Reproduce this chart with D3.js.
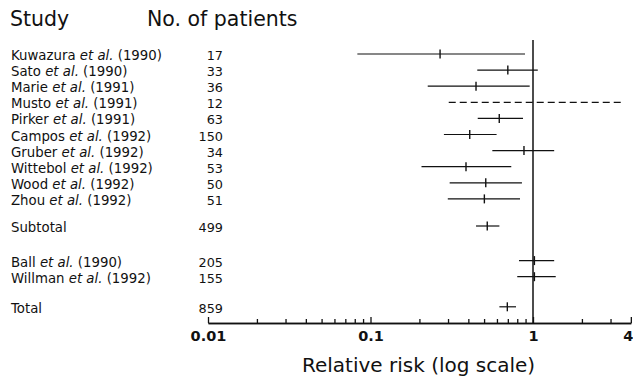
<!DOCTYPE html>
<html><head><meta charset="utf-8">
<script src="https://cdn.jsdelivr.net/npm/d3@7"></script>
<style>
html,body{margin:0;padding:0;background:#fff;}
svg{display:block;font-family:"DejaVu Sans",sans-serif;}
</style></head>
<body><svg id="chart" width="633" height="383"></svg>
<script>
// ---- data ----
const studies   = ["Kuwazura","Sato","Marie","Musto","Pirker","Campos","Gruber","Wittebol","Wood","Zhou","Subtotal","Ball","Willman","Total"];
const years     = ["1990","1990","1991","1991","1991","1992","1992","1992","1992","1992",null,"1990","1992",null];
const groups    = [0,0,0,0,0,0,0,0,0,0,1,2,2,3];
const patients  = [17,33,36,12,63,150,34,53,50,51,499,205,155,859];
const rrPoint   = [0.268,0.70,0.446,null,0.62,0.408,0.88,0.387,0.512,0.502,0.523,1.02,1.02,0.695];
const rrLow     = [0.083,0.454,0.225,0.303,0.457,0.283,0.562,0.206,0.307,0.299,0.446,0.82,0.80,0.621];
const rrHigh    = [0.893,1.07,0.954,3.51,0.868,0.597,1.35,0.735,0.855,0.832,0.621,1.35,1.38,0.786];
const dashed    = [false,false,false,true,false,false,false,false,false,false,false,false,false,false];
const majorTicks = [0.01,0.1,1,4];
const majorLabels = ["0.01","0.1","1","4"];
const minorTicks = [0.02,0.03,0.04,0.05,0.06,0.07,0.08,0.09,0.2,0.3,0.4,0.5,0.6,0.7,0.8,0.9,2,3];

// ---- layout ----
const svg = d3.select("#chart");
const ink = "#111";
const rowStep = 16.1, firstRow = 55;
const groupOffset = [0, 11, 29.5, 43.5];
const yPos = studies.map((d,i)=> firstRow + rowStep*i + groupOffset[groups[i]]);
const x = d3.scaleLog().domain([0.01,4]).range([208, 208 + 162.5*Math.log10(400)]);
const axisY = 323;

// headers
svg.append("text").attr("x",10).attr("y",26).attr("font-size",20.5).attr("fill",ink).text("Study");
svg.append("text").attr("x",147).attr("y",26).attr("font-size",20.5).attr("fill",ink).text("No. of patients");

// study labels
const lab = svg.append("g").attr("font-size",13.3).attr("fill",ink);
studies.forEach((s,i)=>{
  const t = lab.append("text").attr("x",11).attr("y",yPos[i]+5);
  if (years[i]) {
    t.append("tspan").text(s+" ");
    t.append("tspan").attr("font-style","italic").text("et al.");
    t.append("tspan").text(" ("+years[i]+")");
  } else t.text(s);
  lab.append("text").attr("x",223).attr("y",yPos[i]+5).attr("text-anchor","end").attr("font-size",12.8).text(patients[i]);
});

// reference line at RR = 1
svg.append("line").attr("x1",x(1)).attr("x2",x(1)).attr("y1",40).attr("y2",axisY)
  .attr("stroke",ink).attr("stroke-width",1.5);

// CI lines and point estimates
const marks = svg.append("g").attr("stroke",ink);
studies.forEach((s,i)=>{
  const y = yPos[i] - 1;
  marks.append("line").attr("x1",x(rrLow[i])).attr("x2",x(rrHigh[i])).attr("y1",y).attr("y2",y)
    .attr("stroke-width",1.2).attr("stroke-dasharray",dashed[i]?"7,4":null);
  if (rrPoint[i]!=null)
    marks.append("line").attr("x1",x(rrPoint[i])).attr("x2",x(rrPoint[i])).attr("y1",y-4.5).attr("y2",y+4.5)
      .attr("stroke-width",1.4);
});

// axis
const gMinor = svg.append("g").attr("transform",`translate(0,${axisY})`)
  .call(d3.axisBottom(x).tickValues(minorTicks).tickSizeInner(-4).tickSizeOuter(0).tickFormat(""));
const gMajor = svg.append("g").attr("transform",`translate(0,${axisY})`)
  .call(d3.axisBottom(x).tickValues(majorTicks).tickSizeInner(-6).tickSizeOuter(0).tickPadding(8)
    .tickFormat((d,i)=>majorLabels[i]));
[gMinor,gMajor].forEach(g=>{
  g.selectAll("path,line").attr("stroke",ink).attr("stroke-width",1.3);
});
gMajor.selectAll("text").attr("font-family","DejaVu Sans, sans-serif").attr("font-size",14.5)
  .attr("font-weight","bold").attr("fill",ink);
// keep the last label inside the frame, as in the reference
gMajor.selectAll(".tick").filter(d=>d===4).select("text").attr("text-anchor","end").attr("dx",2);

svg.append("text").attr("x",302).attr("y",372).attr("font-size",20).attr("fill",ink)
  .text("Relative risk (log scale)");
</script></body></html>
